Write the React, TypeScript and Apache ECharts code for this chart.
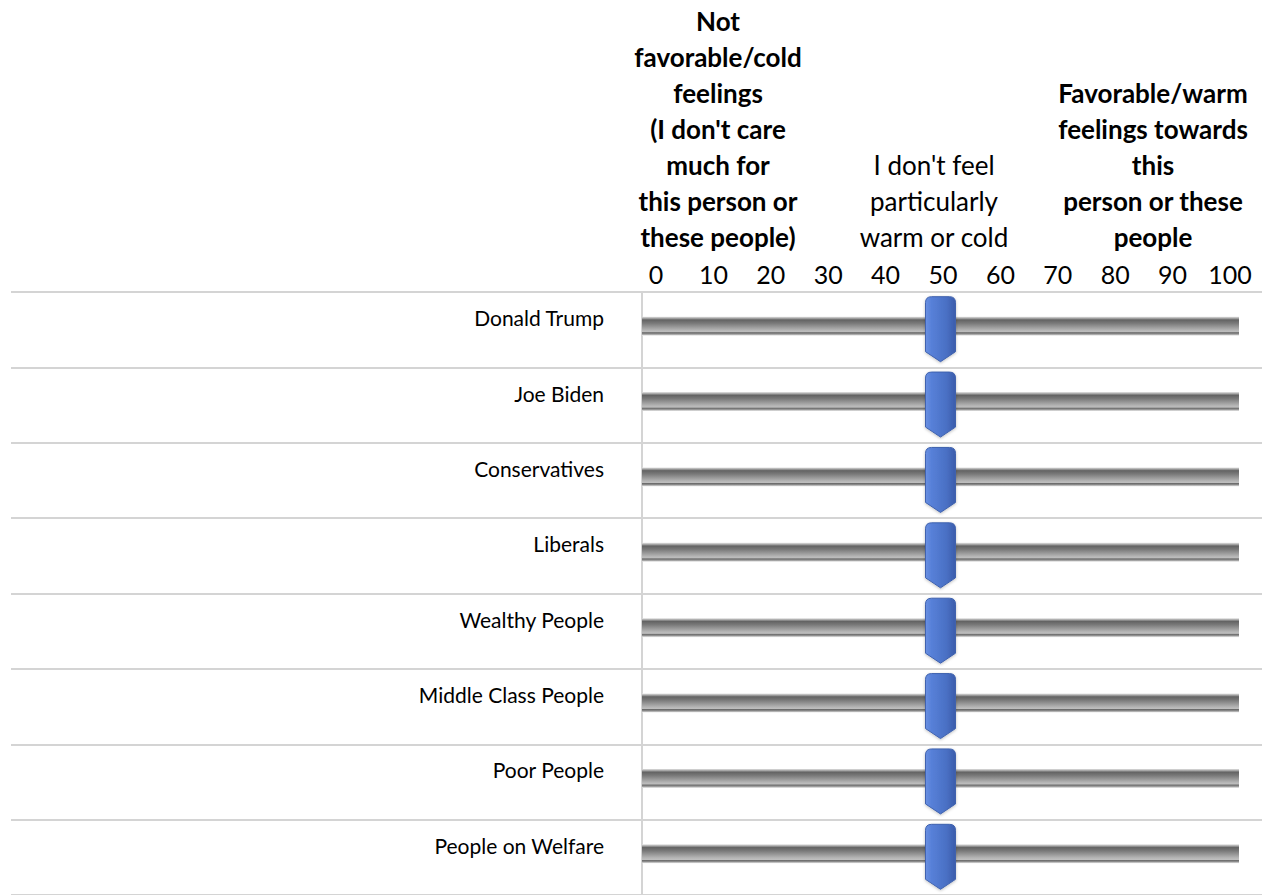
import React, { useEffect, useRef } from "react";
import * as echarts from "echarts";

const categories = [
  "Donald Trump",
  "Joe Biden",
  "Conservatives",
  "Liberals",
  "Wealthy People",
  "Middle Class People",
  "Poor People",
  "People on Welfare",
];
const sliderValues = [50, 50, 50, 50, 50, 50, 50, 50];
const scaleMin = 0;
const scaleMax = 100;
const tickStep = 10;
const leftHeader = [
  "Not",
  "favorable/cold",
  "feelings",
  "(I don't care",
  "much for",
  "this person or",
  "these people)",
];
const midHeader = ["I don't feel", "particularly", "warm or cold"];
const rightHeader = [
  "Favorable/warm",
  "feelings towards",
  "this",
  "person or these",
  "people",
];

const FONT = "Lato, 'Open Sans', sans-serif";
const LINE_H = 36;
const HEAD_TOP = 3;
const HEAD_SIZE = 26;

export default function App() {
  const ref = useRef<HTMLDivElement>(null);
  useEffect(() => {
    document.body.style.margin = "0";
    if (!ref.current) return;
    const chart = echarts.init(ref.current, undefined, { renderer: "svg" });

    const trackFill = new echarts.graphic.LinearGradient(0, 0, 0, 1, [
      { offset: 0, color: "#e4e4e4" },
      { offset: 0.1, color: "#9a9a9a" },
      { offset: 0.17, color: "#636363" },
      { offset: 0.35, color: "#7a7a7a" },
      { offset: 0.72, color: "#b6b6b6" },
      { offset: 0.8, color: "#bebebe" },
      { offset: 0.84, color: "#6a6a6a" },
      { offset: 0.91, color: "#8e8e8e" },
      { offset: 1, color: "#eeeeee" },
    ]);
    const handleFill = new echarts.graphic.LinearGradient(0, 0, 1, 0, [
      { offset: 0, color: "#6a90e2" },
      { offset: 0.2, color: "#5780d8" },
      { offset: 0.7, color: "#4a70c4" },
      { offset: 1, color: "#3a5cab" },
    ]);

    const headerText = (lines: string[], x: number, y: number, bold: boolean) => ({
      type: "text",
      silent: true,
      style: {
        text: lines.join("\n"),
        x,
        y,
        align: "center",
        verticalAlign: "top",
        lineHeight: LINE_H,
        font: `${bold ? "bold " : ""}${HEAD_SIZE}px ${FONT}`,
        fill: "#000",
      },
    });

    const option: any = {
      animation: false,
      backgroundColor: "#ffffff",
      textStyle: { fontFamily: FONT },
      grid: [
        { left: 11, right: 0, top: 292, height: 608 },
        { left: 642, width: 597, top: 292, height: 608 },
        { left: 656, width: 574, top: 292, height: 10 },
      ],
      xAxis: [
        { gridIndex: 0, type: "value", show: false },
        { gridIndex: 1, type: "value", min: scaleMin, max: scaleMax, show: false },
        {
          gridIndex: 2,
          type: "value",
          min: scaleMin,
          max: scaleMax,
          interval: tickStep,
          position: "top",
          axisLine: { show: false },
          axisTick: { show: false },
          splitLine: { show: false },
          axisLabel: {
            fontSize: 25,
            color: "#000",
            margin: 6,
            fontFamily: FONT,
          },
        },
      ],
      yAxis: [
        {
          gridIndex: 0,
          type: "category",
          data: categories,
          inverse: true,
          axisLine: { show: false },
          axisTick: { show: false },
          axisLabel: { show: false },
          splitLine: { show: true, lineStyle: { color: "#d4d4d4", width: 2 } },
        },
        {
          gridIndex: 1,
          type: "category",
          data: categories,
          inverse: true,
          offset: 21,
          axisLine: { show: true, lineStyle: { color: "#d4d4d4", width: 2 } },
          axisTick: { show: false },
          splitLine: { show: false },
          axisLabel: {
            fontSize: 21,
            color: "#000",
            margin: 17,
            fontFamily: FONT,
            verticalAlign: "bottom",
            lineHeight: 24,
          },
        },
        { gridIndex: 2, type: "value", show: false },
      ],
      graphic: [
        headerText(leftHeader, 718, HEAD_TOP, true),
        headerText(midHeader, 934, HEAD_TOP + LINE_H * 4, false),
        headerText(rightHeader, 1153, HEAD_TOP + LINE_H * 2, true),
      ],
      series: [
        {
          type: "custom",
          xAxisIndex: 1,
          yAxisIndex: 1,
          encode: { x: 0, y: 1 },
          data: sliderValues.map((v, i) => [v, i]),
          renderItem: (params: any, api: any) => {
            const idx = api.value(1);
            const v = api.value(0);
            const s = api.coord([scaleMin, idx]);
            const e = api.coord([scaleMax, idx]);
            const h = api.coord([v, idx]);
            const cy = s[1];
            const hx = h[0];
            const hw = 15;
            const top = cy - 33;
            const shoulder = cy + 22;
            const tip = cy + 32;
            const r = 6;
            const d =
              `M ${hx - hw} ${top + r} Q ${hx - hw} ${top} ${hx - hw + r} ${top} ` +
              `L ${hx + hw - r} ${top} Q ${hx + hw} ${top} ${hx + hw} ${top + r} ` +
              `L ${hx + hw} ${shoulder} L ${hx} ${tip} L ${hx - hw} ${shoulder} Z`;
            return {
              type: "group",
              children: [
                {
                  type: "rect",
                  shape: { x: s[0], y: cy - 13, width: e[0] - s[0], height: 19 },
                  style: { fill: trackFill },
                },
                {
                  type: "path",
                  shape: { pathData: d },
                  style: {
                    fill: handleFill,
                    stroke: "#3f62ae",
                    lineWidth: 1,
                    shadowBlur: 3,
                    shadowColor: "rgba(0,0,0,0.25)",
                    shadowOffsetY: 1,
                  },
                },
              ],
            };
          },
        },
      ],
    };
    chart.setOption(option);
    return () => chart.dispose();
  }, []);
  return <div ref={ref} style={{ width: 1262, height: 895 }} />;
}
